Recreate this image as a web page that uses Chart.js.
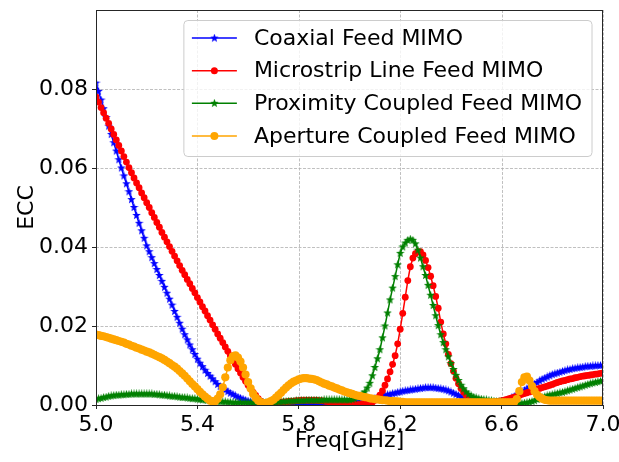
<!DOCTYPE html>
<html>
<head>
<meta charset="utf-8">
<script src="https://cdn.jsdelivr.net/npm/chart.js@4.4.1/dist/chart.umd.min.js"></script>
<style>
html,body{margin:0;padding:0;background:#ffffff;}
#wrap{width:619px;height:462px;position:relative;}
</style>
</head>
<body>
<div id="wrap"><canvas id="c" width="619" height="462"></canvas></div>
<script>
// ---------------- data ----------------
const freqStart = 5.0;
const freqStep = 0.01;
const seriesNames = ["Coaxial Feed MIMO", "Microstrip Line Feed MIMO", "Proximity Coupled Feed MIMO", "Aperture Coupled Feed MIMO"];
const xTickValues = [5.0, 5.4, 5.8, 6.2, 6.6, 7.0];
const yTickValues = [0.00, 0.02, 0.04, 0.06, 0.08];
const xTitle = "Freq[GHz]";
const yTitle = "ECC";

const coaxial = [
0.0815,0.0794,0.0772,0.0750,0.0728,0.0706,0.0685,0.0664,0.0643,0.0621,
0.0600,0.0580,0.0560,0.0540,0.0520,0.0500,0.0480,0.0460,0.0441,0.0422,
0.0403,0.0388,0.0373,0.0358,0.0343,0.0328,0.0313,0.0298,0.0283,0.0268,
0.0253,0.0237,0.0222,0.0207,0.0192,0.0178,0.0165,0.0152,0.0140,0.0128,
0.0116,0.0106,0.0097,0.0088,0.0080,0.0073,0.0066,0.0059,0.0052,0.0047,
0.0042,0.0038,0.0034,0.0030,0.0027,0.0023,0.0020,0.0017,0.0015,0.0012,
0.0010,0.0008,0.0007,0.0006,0.0005,0.0004,0.0004,0.0003,0.0003,0.0003,
0.0003,0.0003,0.0003,0.0003,0.0003,0.0003,0.0003,0.0003,0.0003,0.0003,
0.0003,0.0003,0.0003,0.0003,0.0003,0.0004,0.0004,0.0004,0.0004,0.0004,
0.0004,0.0004,0.0004,0.0004,0.0004,0.0004,0.0005,0.0005,0.0005,0.0005,
0.0005,0.0006,0.0006,0.0007,0.0008,0.0009,0.0010,0.0011,0.0013,0.0014,
0.0016,0.0018,0.0020,0.0022,0.0024,0.0026,0.0027,0.0029,0.0030,0.0032,
0.0033,0.0035,0.0036,0.0037,0.0038,0.0039,0.0040,0.0041,0.0042,0.0043,
0.0044,0.0044,0.0044,0.0044,0.0043,0.0042,0.0041,0.0040,0.0038,0.0036,
0.0033,0.0030,0.0027,0.0024,0.0021,0.0017,0.0014,0.0012,0.0010,0.0008,
0.0007,0.0006,0.0006,0.0005,0.0005,0.0005,0.0005,0.0005,0.0006,0.0007,
0.0008,0.0010,0.0012,0.0015,0.0018,0.0021,0.0025,0.0029,0.0033,0.0037,
0.0041,0.0045,0.0049,0.0053,0.0057,0.0061,0.0065,0.0068,0.0071,0.0074,
0.0077,0.0079,0.0081,0.0083,0.0085,0.0087,0.0089,0.0090,0.0092,0.0093,
0.0094,0.0095,0.0096,0.0097,0.0098,0.0098,0.0099,0.0099,0.0100,0.0100,
0.0100];

const microstrip = [
0.0780,0.0767,0.0753,0.0740,0.0726,0.0713,0.0699,0.0685,0.0671,0.0657,
0.0643,0.0629,0.0615,0.0601,0.0588,0.0575,0.0562,0.0550,0.0537,0.0525,
0.0512,0.0500,0.0487,0.0475,0.0462,0.0450,0.0437,0.0425,0.0413,0.0401,
0.0389,0.0377,0.0365,0.0353,0.0341,0.0330,0.0318,0.0307,0.0295,0.0284,
0.0272,0.0261,0.0249,0.0238,0.0226,0.0215,0.0203,0.0192,0.0180,0.0169,
0.0158,0.0147,0.0136,0.0125,0.0114,0.0103,0.0092,0.0081,0.0070,0.0060,
0.0050,0.0041,0.0032,0.0024,0.0016,0.0010,0.0006,0.0004,0.0003,0.0003,
0.0004,0.0005,0.0006,0.0007,0.0008,0.0008,0.0009,0.0010,0.0010,0.0011,
0.0011,0.0012,0.0012,0.0012,0.0012,0.0012,0.0012,0.0012,0.0011,0.0011,
0.0010,0.0009,0.0008,0.0007,0.0006,0.0005,0.0004,0.0004,0.0003,0.0003,
0.0002,0.0002,0.0001,0.0001,0.0001,0.0002,0.0002,0.0003,0.0004,0.0007,
0.0012,0.0018,0.0025,0.0036,0.0050,0.0066,0.0084,0.0103,0.0125,0.0155,
0.0192,0.0232,0.0273,0.0315,0.0350,0.0372,0.0383,0.0388,0.0388,0.0380,
0.0366,0.0348,0.0326,0.0302,0.0275,0.0245,0.0210,0.0180,0.0155,0.0128,
0.0105,0.0086,0.0068,0.0054,0.0042,0.0033,0.0025,0.0020,0.0016,0.0013,
0.0011,0.0009,0.0008,0.0007,0.0007,0.0007,0.0007,0.0008,0.0009,0.0010,
0.0011,0.0012,0.0014,0.0016,0.0018,0.0020,0.0022,0.0024,0.0027,0.0029,
0.0031,0.0033,0.0035,0.0038,0.0040,0.0042,0.0044,0.0046,0.0048,0.0050,
0.0052,0.0055,0.0057,0.0059,0.0061,0.0062,0.0064,0.0066,0.0067,0.0069,
0.0070,0.0072,0.0073,0.0074,0.0075,0.0076,0.0077,0.0078,0.0079,0.0080,
0.0081];

const proximity = [
0.0014,0.0016,0.0017,0.0019,0.0020,0.0022,0.0023,0.0024,0.0025,0.0025,
0.0026,0.0026,0.0027,0.0027,0.0028,0.0028,0.0028,0.0028,0.0028,0.0028,
0.0028,0.0028,0.0028,0.0027,0.0027,0.0026,0.0025,0.0025,0.0024,0.0023,
0.0022,0.0022,0.0021,0.0020,0.0019,0.0019,0.0018,0.0017,0.0016,0.0016,
0.0015,0.0014,0.0013,0.0013,0.0012,0.0011,0.0010,0.0010,0.0009,0.0009,
0.0008,0.0008,0.0007,0.0007,0.0006,0.0006,0.0006,0.0006,0.0006,0.0006,
0.0006,0.0006,0.0006,0.0006,0.0006,0.0006,0.0006,0.0006,0.0006,0.0006,
0.0007,0.0007,0.0008,0.0008,0.0009,0.0009,0.0010,0.0010,0.0010,0.0011,
0.0011,0.0011,0.0011,0.0012,0.0012,0.0012,0.0012,0.0012,0.0012,0.0012,
0.0013,0.0013,0.0013,0.0013,0.0013,0.0013,0.0013,0.0013,0.0013,0.0013,
0.0013,0.0014,0.0016,0.0019,0.0022,0.0027,0.0033,0.0043,0.0055,0.0074,
0.0095,0.0117,0.0140,0.0170,0.0200,0.0233,0.0266,0.0296,0.0325,0.0355,
0.0384,0.0400,0.0410,0.0417,0.0420,0.0417,0.0408,0.0392,0.0372,0.0350,
0.0328,0.0303,0.0278,0.0252,0.0226,0.0201,0.0178,0.0158,0.0140,0.0122,
0.0105,0.0090,0.0075,0.0062,0.0050,0.0041,0.0033,0.0027,0.0023,0.0020,
0.0018,0.0016,0.0015,0.0014,0.0013,0.0012,0.0011,0.0010,0.0009,0.0009,
0.0008,0.0007,0.0006,0.0006,0.0005,0.0005,0.0004,0.0004,0.0004,0.0005,
0.0006,0.0007,0.0009,0.0011,0.0014,0.0016,0.0019,0.0021,0.0023,0.0025,
0.0026,0.0028,0.0029,0.0031,0.0032,0.0034,0.0036,0.0038,0.0040,0.0042,
0.0044,0.0046,0.0048,0.0050,0.0052,0.0054,0.0056,0.0057,0.0059,0.0060,
0.0062];

const aperture = [
0.0178,0.0177,0.0175,0.0174,0.0172,0.0170,0.0168,0.0166,0.0164,0.0162,
0.0160,0.0158,0.0155,0.0153,0.0150,0.0148,0.0145,0.0143,0.0140,0.0138,
0.0135,0.0133,0.0130,0.0127,0.0124,0.0121,0.0118,0.0114,0.0110,0.0106,
0.0101,0.0097,0.0092,0.0086,0.0080,0.0074,0.0067,0.0060,0.0053,0.0047,
0.0040,0.0033,0.0027,0.0021,0.0016,0.0011,0.0009,0.0010,0.0016,0.0027,
0.0045,0.0070,0.0095,0.0113,0.0123,0.0126,0.0120,0.0110,0.0095,0.0077,
0.0058,0.0042,0.0028,0.0018,0.0011,0.0007,0.0005,0.0005,0.0007,0.0010,
0.0013,0.0019,0.0025,0.0031,0.0038,0.0044,0.0050,0.0055,0.0059,0.0062,
0.0065,0.0067,0.0068,0.0068,0.0067,0.0066,0.0065,0.0063,0.0060,0.0057,
0.0054,0.0052,0.0049,0.0047,0.0044,0.0042,0.0039,0.0037,0.0034,0.0032,
0.0030,0.0028,0.0026,0.0024,0.0023,0.0021,0.0020,0.0019,0.0017,0.0016,
0.0015,0.0014,0.0013,0.0012,0.0012,0.0011,0.0010,0.0010,0.0009,0.0009,
0.0008,0.0008,0.0007,0.0007,0.0007,0.0007,0.0007,0.0007,0.0007,0.0007,
0.0007,0.0007,0.0007,0.0007,0.0007,0.0007,0.0007,0.0007,0.0007,0.0007,
0.0007,0.0007,0.0007,0.0007,0.0007,0.0007,0.0007,0.0007,0.0007,0.0007,
0.0007,0.0007,0.0007,0.0007,0.0007,0.0007,0.0007,0.0007,0.0007,0.0007,
0.0007,0.0007,0.0007,0.0007,0.0007,0.0008,0.0015,0.0035,0.0058,0.0070,
0.0072,0.0062,0.0048,0.0035,0.0026,0.0020,0.0016,0.0013,0.0012,0.0011,
0.0011,0.0011,0.0011,0.0011,0.0011,0.0011,0.0011,0.0011,0.0011,0.0011,
0.0011,0.0011,0.0011,0.0011,0.0011,0.0011,0.0011,0.0011,0.0011,0.0011,
0.0011];

const seriesColors = ["#0000ff", "#ff0000", "#008000", "#ffa500"];

// ---------------- helpers ----------------
const freq = coaxial.map((_, i) => +(freqStart + i * freqStep).toFixed(2));
const toXY = arr => arr.map((v, i) => ({x: freq[i], y: v}));

function makeStar(color, size) {
  const c = document.createElement('canvas');
  c.width = size; c.height = size;
  const g = c.getContext('2d');
  const cx = size / 2, cy = size / 2, R = size / 2, r = R * 0.42;
  g.beginPath();
  for (let k = 0; k < 10; k++) {
    const ang = -Math.PI / 2 + k * Math.PI / 5;
    const rad = (k % 2) ? r : R;
    g.lineTo(cx + rad * Math.cos(ang), cy + rad * Math.sin(ang));
  }
  g.closePath();
  g.fillStyle = color;
  g.fill();
  return c;
}
const blueStar = makeStar(seriesColors[0], 9);
const greenStar = makeStar(seriesColors[2], 9);
const FONT = '"DejaVu Sans", "Liberation Sans", sans-serif';
const FONT_SIZE = 22;

// ---------------- plugins ----------------
const gridPlugin = {
  id: 'dashGrid',
  beforeDatasetsDraw(chart) {
    const {ctx, chartArea: a, scales} = chart;
    ctx.save();
    ctx.strokeStyle = '#b0b0b0';
    ctx.lineWidth = 0.8;
    ctx.setLineDash([3, 1.5]);
    xTickValues.forEach(v => {
      const px = Math.round(scales.x.getPixelForValue(v)) + 0.5;
      ctx.beginPath(); ctx.moveTo(px, a.top); ctx.lineTo(px, a.bottom); ctx.stroke();
    });
    yTickValues.forEach(v => {
      const py = Math.round(scales.y.getPixelForValue(v)) + 0.5;
      ctx.beginPath(); ctx.moveTo(a.left, py); ctx.lineTo(a.right, py); ctx.stroke();
    });
    ctx.restore();
  }
};

const framePlugin = {
  id: 'frame',
  afterDatasetsDraw(chart) {
    const {ctx, chartArea: a} = chart;
    ctx.save();
    ctx.strokeStyle = '#262626';
    ctx.lineWidth = 1;
    ctx.strokeRect(Math.round(a.left) + 0.5, Math.round(a.top) + 0.5,
                   Math.round(a.right - a.left) - 1, Math.round(a.bottom - a.top));
    ctx.restore();
  }
};

const legendPlugin = {
  id: 'mplLegend',
  afterDraw(chart) {
    const {ctx, chartArea: a} = chart;
    ctx.save();
    ctx.font = FONT_SIZE + 'px ' + FONT;
    const maxW = Math.max(...seriesNames.map(n => ctx.measureText(n).width));
    const right = a.right - 11;
    const top = a.top + 10.5;
    const left = right - 10 - maxW - 70;
    const h = 136;
    const rad = 4;
    ctx.beginPath();
    ctx.moveTo(left + rad, top);
    ctx.lineTo(right - rad, top);
    ctx.arcTo(right, top, right, top + rad, rad);
    ctx.lineTo(right, top + h - rad);
    ctx.arcTo(right, top + h, right - rad, top + h, rad);
    ctx.lineTo(left + rad, top + h);
    ctx.arcTo(left, top + h, left, top + h - rad, rad);
    ctx.lineTo(left, top + rad);
    ctx.arcTo(left, top, left + rad, top, rad);
    ctx.closePath();
    ctx.fillStyle = 'rgba(255,255,255,0.8)';
    ctx.fill();
    ctx.strokeStyle = '#cccccc';
    ctx.lineWidth = 1;
    ctx.stroke();

    const rowH = 32.6;
    seriesNames.forEach((name, i) => {
      const y = top + 17.6 + i * rowH;
      const col = seriesColors[i];
      ctx.strokeStyle = col;
      ctx.lineWidth = 1.5;
      ctx.beginPath();
      ctx.moveTo(left + 8, y);
      ctx.lineTo(left + 53, y);
      ctx.stroke();
      const mx = left + 30.5;
      if (i === 0 || i === 2) {
        const img = i === 0 ? blueStar : greenStar;
        ctx.drawImage(img, mx - img.width / 2, y - img.height / 2);
      } else {
        ctx.fillStyle = col;
        ctx.beginPath();
        ctx.arc(mx, y, i === 1 ? 3.5 : 4, 0, Math.PI * 2);
        ctx.fill();
      }
      ctx.fillStyle = '#000000';
      ctx.textBaseline = 'middle';
      ctx.textAlign = 'left';
      ctx.fillText(name, left + 70, y + 1);
    });
    ctx.restore();
  }
};

// ---------------- chart ----------------
const gridCommon = {
  drawOnChartArea: false,
  drawTicks: true,
  tickLength: 4,
  tickColor: '#262626',
  tickWidth: 1
};

new Chart(document.getElementById('c'), {
  type: 'line',
  data: {
    datasets: [
      {label: seriesNames[0], data: toXY(coaxial), borderColor: seriesColors[0], backgroundColor: seriesColors[0],
       borderWidth: 1.5, pointStyle: blueStar, pointRadius: 4.5, order: 4},
      {label: seriesNames[1], data: toXY(microstrip), borderColor: seriesColors[1], backgroundColor: seriesColors[1],
       borderWidth: 1.5, pointStyle: 'circle', pointRadius: 3.4, pointBorderWidth: 0, order: 3},
      {label: seriesNames[2], data: toXY(proximity), borderColor: seriesColors[2], backgroundColor: seriesColors[2],
       borderWidth: 1.5, pointStyle: greenStar, pointRadius: 4.5, order: 2},
      {label: seriesNames[3], data: toXY(aperture), borderColor: seriesColors[3], backgroundColor: seriesColors[3],
       borderWidth: 1.5, pointStyle: 'circle', pointRadius: 4.1, pointBorderWidth: 0, order: 1}
    ]
  },
  options: {
    responsive: false,
    animation: false,
    devicePixelRatio: 1,
    layout: {padding: {left: 0, right: 16, top: 10, bottom: 0}},
    elements: {line: {tension: 0}},
    plugins: {legend: {display: false}, tooltip: {enabled: false}},
    scales: {
      x: {
        type: 'linear', min: 5.0, max: 7.0,
        afterBuildTicks: s => { s.ticks = xTickValues.map(v => ({value: v})); },
        afterFit: s => { s.height = 57; s.paddingLeft = 0; s.paddingRight = 0; },
        grid: gridCommon,
        border: {display: false},
        ticks: {color: '#000', padding: 3, maxRotation: 0, autoSkip: false,
                font: {family: FONT, size: FONT_SIZE},
                callback: v => Number(v).toFixed(1)},
        title: {display: true, text: xTitle, color: '#000', font: {family: FONT, size: FONT_SIZE},
                padding: {top: 0, bottom: 8}}
      },
      y: {
        type: 'linear', min: 0, max: 0.1,
        afterBuildTicks: s => { s.ticks = yTickValues.map(v => ({value: v})); },
        afterFit: s => { s.width = 96; s.paddingTop = 0; s.paddingBottom = 0; },
        grid: gridCommon,
        border: {display: false},
        ticks: {color: '#000', padding: 4, autoSkip: false,
                font: {family: FONT, size: FONT_SIZE},
                callback: v => Number(v).toFixed(2)},
        title: {display: true, text: yTitle, color: '#000', font: {family: FONT, size: FONT_SIZE},
                padding: {top: 14, bottom: 0}}
      }
    }
  },
  plugins: [gridPlugin, framePlugin, legendPlugin]
});
</script>
</body>
</html>
